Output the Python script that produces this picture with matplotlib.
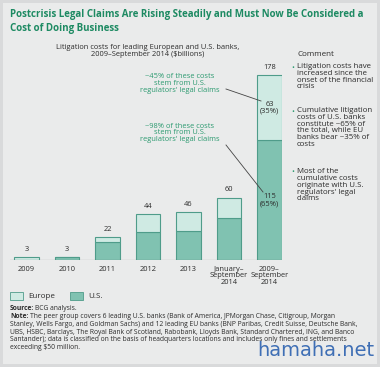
import matplotlib
matplotlib.use('Agg')
import matplotlib.pyplot as plt
from matplotlib.patches import Rectangle
import numpy as np

# data ($ billions)
years = ['2009', '2010', '2011', '2012', '2013', 'January–\nSeptember\n2014', '2009–\nSeptember\n2014']
europe = [3, 0, 5, 17, 18, 20, 63]
us = [0, 3, 17, 27, 28, 40, 115]
totals = [3, 3, 22, 44, 46, 60, 178]

W, H = 380, 367
fig = plt.figure(figsize=(W / 100, H / 100), dpi=100)
fig.patch.set_facecolor('#d9dadb')

plt.rcParams['font.family'] = ['Open Sans', 'DejaVu Sans']
FS = 5.45

def P(x, y):
    return x / W, 1 - y / H

def T(x, y, s, **kw):
    return fig.text(*P(x, y), s, **kw)

# inner panel
fig.patches.append(Rectangle(P(3, 364), 374 / W, 361 / H, transform=fig.transFigure,
                             facecolor='#eaebeb', edgecolor='none', zorder=-5))

green_title = '#1d8a62'
green_txt = '#2c9a70'
c_eu = '#cfeae3'
c_us = '#80c2b1'
c_edge = '#4f9c8a'
dark = '#2b2b2b'

T(10, 15, 'Postcrisis Legal Claims Are Rising Steadily and Must Now Be Considered a',
  fontsize=7.0, fontweight='bold', color=green_title, va='center')
T(10, 29, 'Cost of Doing Business', fontsize=7.0, fontweight='bold', color=green_title, va='center')

T(148, 51, 'Litigation costs for leading European and U.S. banks,\n2009–September 2014 ($billions)',
  fontsize=FS, color=dark, ha='center', va='center', linespacing=1.0)
T(298, 55, 'Comment', fontsize=5.8, color=dark, va='center')

# bar axes: baseline at y=260 px, 1.04 px per unit
x0, x1 = 10, 282
ax = fig.add_axes([x0 / W, 1 - 260 / H, (x1 - x0) / W, 190 * 1.04 / H])
ax.set_facecolor('none')
xs = np.arange(len(years))
ax.bar(xs, us, width=0.6, color=c_us, edgecolor=c_edge, linewidth=0.8)
ax.bar(xs, europe, bottom=us, width=0.6, color=c_eu, edgecolor=c_edge, linewidth=0.8)
ax.set_xlim(-0.41, 6.31)
ax.set_ylim(0, 190)
ax.axhline(0, color='#666666', linewidth=0.8)
for s in ax.spines.values():
    s.set_visible(False)
ax.set_yticks([])
ax.set_xticks(xs)
ax.set_xticklabels(years, fontsize=FS, color=dark, linespacing=0.95)
ax.tick_params(axis='x', length=0, pad=4)

for i, t in enumerate(totals):
    ax.annotate(str(t), (xs[i], t), xytext=(0, 3), textcoords='offset points',
                ha='center', va='bottom', fontsize=FS, color=dark)

ax.text(xs[6], us[6] + europe[6] / 2, '%d\n(35%%)' % europe[6], ha='center', va='center',
        fontsize=FS, color=dark, linespacing=0.95)
ax.text(xs[6], us[6] / 2, '%d\n(65%%)' % us[6], ha='center', va='center',
        fontsize=FS, color=dark, linespacing=0.95)

T(180, 83.5, '~45% of these costs\nstem from U.S.\nregulators\' legal claims',
  fontsize=FS, color=green_txt, ha='center', va='center', linespacing=0.98)
T(180, 133, '~98% of these costs\nstem from U.S.\nregulators\' legal claims',
  fontsize=FS, color=green_txt, ha='center', va='center', linespacing=0.98)
fig.lines.append(plt.Line2D(*zip(P(226, 89), P(261, 101)), transform=fig.transFigure,
                            color='#444444', linewidth=0.6))
fig.lines.append(plt.Line2D(*zip(P(226, 145), P(263, 192)), transform=fig.transFigure,
                            color='#444444', linewidth=0.6))

# comments
CS = 5.7
comments = [
    (68, 'Litigation costs have\nincreased since the\nonset of the financial\ncrisis'),
    (112, 'Cumulative litigation\ncosts of U.S. banks\nconstitute ~65% of\nthe total, while EU\nbanks bear ~35% of\ncosts'),
    (173, 'Most of the\ncumulative costs\noriginate with U.S.\nregulators\' legal\nclaims'),
]
for y, txt in comments:
    T(291, y, '•', fontsize=CS, color=green_txt, va='center')
    T(297, y - 4.6, txt, fontsize=CS, color=dark, va='top', linespacing=0.94)

# legend
fig.patches.append(Rectangle(P(10, 300), 13 / W, 8 / H, transform=fig.transFigure,
                             facecolor=c_eu, edgecolor=c_edge, linewidth=0.6))
T(28, 296, 'Europe', fontsize=5.8, color=dark, va='center')
fig.patches.append(Rectangle(P(70, 300), 13 / W, 8 / H, transform=fig.transFigure,
                             facecolor=c_us, edgecolor=c_edge, linewidth=0.6))
T(88, 296, 'U.S.', fontsize=5.8, color=dark, va='center')

fig.canvas.draw()
r = fig.canvas.get_renderer()
NS = 4.9

def bold_lead(x, y, lead, rest):
    t = T(x, y, lead, fontsize=NS, fontweight='bold', color=dark, va='center')
    w = t.get_window_extent(r).width
    T(x + w + 1.2, y, rest, fontsize=NS, color=dark, va='center')

bold_lead(10, 309, 'Source:', 'BCG analysis.')
bold_lead(10, 316.5, 'Note:', 'The peer group covers 6 leading U.S. banks (Bank of America, JPMorgan Chase, Citigroup, Morgan')
notes = [
    'Stanley, Wells Fargo, and Goldman Sachs) and 12 leading EU banks (BNP Paribas, Credit Suisse, Deutsche Bank,',
    'UBS, HSBC, Barclays, The Royal Bank of Scotland, Rabobank, Lloyds Bank, Standard Chartered, ING, and Banco',
    'Santander); data is classified on the basis of headquarters locations and includes only fines and settlements',
    'exceeding $50 million.',
]
for k, line in enumerate(notes):
    T(10, 324.3 + 7.8 * k, line, fontsize=NS, color=dark, va='center')

T(374, 351, 'hamaha.net', fontsize=14, color='#3f6fb5', ha='right', va='center',
  family='DejaVu Sans')

fig.savefig('out.png', dpi=100, facecolor=fig.get_facecolor())
